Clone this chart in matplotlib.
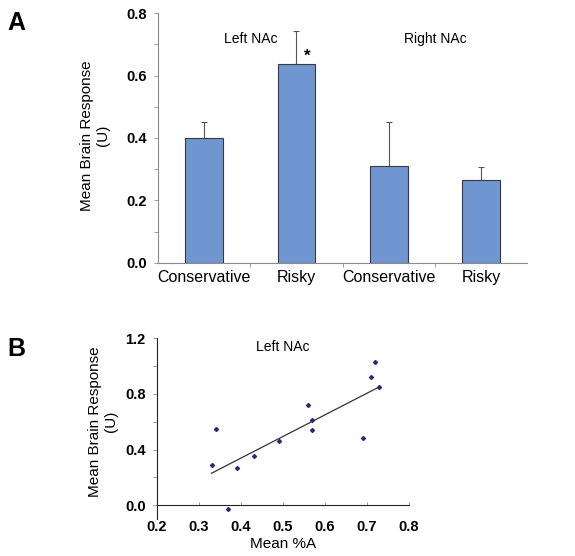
import numpy as np
import matplotlib.pyplot as plt
from matplotlib.ticker import MultipleLocator

plt.rcParams['font.family'] = ['Liberation Sans', 'DejaVu Sans']

# panel A: mean NAc response per choice type
categories = ['Conservative', 'Risky', 'Conservative', 'Risky']
means = [0.40, 0.637, 0.309, 0.265]
errors = [0.052, 0.106, 0.141, 0.042]
group_labels = ['Left NAc', 'Right NAc']

# panel B: left NAc response vs mean %A
pct_a = [0.33, 0.34, 0.37, 0.39, 0.43, 0.49, 0.56, 0.57, 0.57, 0.69, 0.71, 0.72, 0.73]
response = [0.29, 0.55, -0.03, 0.27, 0.35, 0.46, 0.72, 0.61, 0.54, 0.48, 0.92, 1.03, 0.85]

bar_color = '#7096d2'
axis_gray = '#8a8a8a'

fig = plt.figure(figsize=(5.75, 5.56), dpi=100)

# ---- A ----
axA = fig.add_axes([0.2748, 0.527, 0.642, 0.4496])
x = np.arange(len(categories)) + 0.5
axA.bar(x, means, width=0.41, color=bar_color, edgecolor='#3a3a3a', linewidth=0.8, zorder=2)
axA.errorbar(x, means, yerr=[np.zeros(len(errors)), errors], fmt='none',
             ecolor='#555555', elinewidth=0.8, capsize=2.5, capthick=0.8, zorder=1)
axA.set_xlim(0, 4)
axA.set_ylim(0, 0.8)
axA.yaxis.set_minor_locator(MultipleLocator(0.1))
axA.set_yticks([0, 0.2, 0.4, 0.6, 0.8])
axA.set_yticklabels(['0.0', '0.2', '0.4', '0.6', '0.8'], fontweight='bold', fontsize=10.5)
axA.tick_params(axis='y', which='both', direction='out', length=3, width=0.6, color=axis_gray, pad=5)
axA.set_xticks(x)
axA.set_xticklabels(categories, fontsize=11.5)
axA.set_xticks([1, 2, 3], minor=True)
axA.tick_params(axis='x', which='major', length=0, pad=5)
axA.tick_params(axis='x', which='minor', direction='out', length=3, width=0.6, color=axis_gray)
for s in ['top', 'right']:
    axA.spines[s].set_visible(False)
for s in ['left', 'bottom']:
    axA.spines[s].set_color(axis_gray)
    axA.spines[s].set_linewidth(0.8)
axA.set_ylabel('Mean Brain Response\n(U)', fontsize=11)
axA.yaxis.set_label_coords(-0.130, 0.51)
axA.text(1.0, 0.717, group_labels[0], ha='center', va='center', fontsize=10)
axA.text(3.0, 0.717, group_labels[1], ha='center', va='center', fontsize=10)
axA.text(x[1] + 0.12, means[1], '*', ha='center', va='bottom', fontsize=12, fontweight='bold')
fig.text(0.012, 0.958, 'A', fontsize=18, fontweight='bold', va='center')

# ---- B ----
axB = fig.add_axes([0.273, 0.0665, 0.438, 0.325])
axB.scatter(pct_a, response, s=4, color='#2a2a7a', marker='D', zorder=3, clip_on=False)
k, b = np.polyfit(pct_a, response, 1)
fx = np.array([min(pct_a), max(pct_a)])
axB.plot(fx, k * fx + b, color='#333333', linewidth=0.9)
axB.set_xlim(0.2, 0.8)
axB.set_ylim(-0.1, 1.2)
axB.spines['bottom'].set_position(('data', 0))
for s in ['top', 'right']:
    axB.spines[s].set_visible(False)
for s in ['left', 'bottom']:
    axB.spines[s].set_color('#222222')
    axB.spines[s].set_linewidth(0.8)
axB.set_yticks([0, 0.4, 0.8, 1.2])
axB.set_yticklabels(['0.0', '0.4', '0.8', '1.2'], fontweight='bold', fontsize=10.5)
axB.yaxis.set_minor_locator(MultipleLocator(0.2))
axB.tick_params(axis='y', which='both', direction='out', length=3, width=0.6, color=axis_gray, pad=5)
axB.set_xticks([0.2, 0.3, 0.4, 0.5, 0.6, 0.7, 0.8])
axB.set_xticklabels(['0.2', '0.3', '0.4', '0.5', '0.6', '0.7', '0.8'], fontweight='bold', fontsize=10.5)
axB.tick_params(axis='x', direction='in', length=2, width=0.6, color=axis_gray, pad=11)
axB.set_xlabel('Mean %A', fontsize=11, labelpad=2)
axB.set_ylabel('Mean Brain Response\n(U)', fontsize=11)
axB.yaxis.set_label_coords(-0.155, 0.54)
axB.text(0.5, 0.951, 'Left NAc', ha='center', va='center', fontsize=10, transform=axB.transAxes)
fig.text(0.012, 0.373, 'B', fontsize=18, fontweight='bold', va='center')

fig.savefig('out.png', dpi=100)
